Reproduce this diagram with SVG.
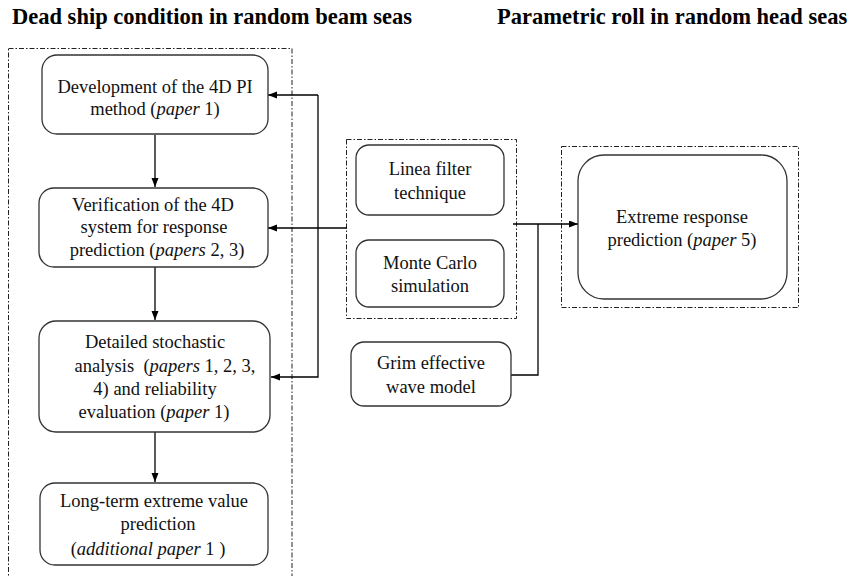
<svg xmlns="http://www.w3.org/2000/svg" width="864" height="576" viewBox="0 0 864 576">
<style>
.t{font-family:"Liberation Serif","Times New Roman",serif;font-size:18.5px;fill:#111;text-anchor:middle}
.h{font-family:"Liberation Serif","Times New Roman",serif;font-size:22.5px;font-weight:bold;fill:#000}
.box{fill:#fff;stroke:#333;stroke-width:1.3}
.grp{fill:none;stroke:#222;stroke-width:1;stroke-dasharray:5 2 1.5 2}
.c{fill:none;stroke:#000;stroke-width:1.3}
</style>
<defs>
<marker id="ah" markerUnits="userSpaceOnUse" markerWidth="10" markerHeight="8" refX="9" refY="3.5" orient="auto">
<path d="M0,0 L9,3.5 L0,7 z" fill="#000"/>
</marker>
</defs>
<rect width="864" height="576" fill="#fff"/>
<text class="h" x="12" y="24">Dead ship condition in random beam seas</text>
<text class="h" x="497" y="24">Parametric roll in random head seas</text>

<g id="groups">
<rect class="grp" x="8.5" y="48.5" width="283.5" height="540"/>
<rect class="grp" x="346.5" y="139.5" width="170" height="179"/>
<rect class="grp" x="561.5" y="146.5" width="237" height="161"/>
</g>

<g id="connectors">
<path class="c" d="M155,135 V187" marker-end="url(#ah)"/>
<path class="c" d="M155,267 V320" marker-end="url(#ah)"/>
<path class="c" d="M155,432 V482" marker-end="url(#ah)"/>
<path class="c" d="M318,95 H268" marker-end="url(#ah)"/>
<path class="c" d="M318,95 V377 H271" marker-end="url(#ah)"/>
<path class="c" d="M347,228 H268" marker-end="url(#ah)"/>
<path class="c" d="M513,224 H578" marker-end="url(#ah)"/>
<path class="c" d="M538,224 V375 H511"/>
</g>

<g id="n1">
<rect class="box" x="42" y="55" width="226" height="79" rx="15"/>
<text class="t" x="155" y="93">Development of the 4D PI</text>
<text class="t" x="155" y="115">method (<tspan font-style="italic">paper</tspan> 1)</text>
</g>
<g id="n2">
<rect class="box" x="39" y="188" width="229" height="79" rx="15"/>
<text class="t" x="153" y="211">Verification of the 4D</text>
<text class="t" x="154" y="233">system for response</text>
<text class="t" x="157" y="256">prediction (<tspan font-style="italic">papers</tspan> 2, 3)</text>
</g>
<g id="n3">
<rect class="box" x="39" y="321" width="231" height="111" rx="17"/>
<text class="t" x="155" y="348">Detailed stochastic</text>
<text class="t" x="165" y="372" style="white-space:pre">analysis  (<tspan font-style="italic">papers</tspan> 1, 2, 3,</text>
<text class="t" x="155" y="395">4) and reliability</text>
<text class="t" x="154" y="418">evaluation (<tspan font-style="italic">paper</tspan> 1)</text>
</g>
<g id="n4">
<rect class="box" x="40" y="483" width="228" height="82" rx="15"/>
<text class="t" x="154" y="507">Long-term extreme value</text>
<text class="t" x="158" y="530">prediction</text>
<text class="t" x="148" y="555">(<tspan font-style="italic">additional paper</tspan> 1 )</text>
</g>
<g id="n5">
<rect class="box" x="356" y="145" width="148" height="70" rx="13"/>
<text class="t" x="430" y="175">Linea filter</text>
<text class="t" x="430" y="199">technique</text>
</g>
<g id="n6">
<rect class="box" x="356" y="240" width="148" height="67" rx="13"/>
<text class="t" x="430" y="269">Monte Carlo</text>
<text class="t" x="430" y="292">simulation</text>
</g>
<g id="n7">
<rect class="box" x="351" y="342" width="160" height="64" rx="13"/>
<text class="t" x="431" y="369">Grim effective</text>
<text class="t" x="431" y="393">wave model</text>
</g>
<g id="n8">
<rect class="box" x="578" y="155" width="209" height="144" rx="26"/>
<text class="t" x="682" y="223">Extreme response</text>
<text class="t" x="682" y="246">prediction (<tspan font-style="italic">paper</tspan> 5)</text>
</g>
</svg>
